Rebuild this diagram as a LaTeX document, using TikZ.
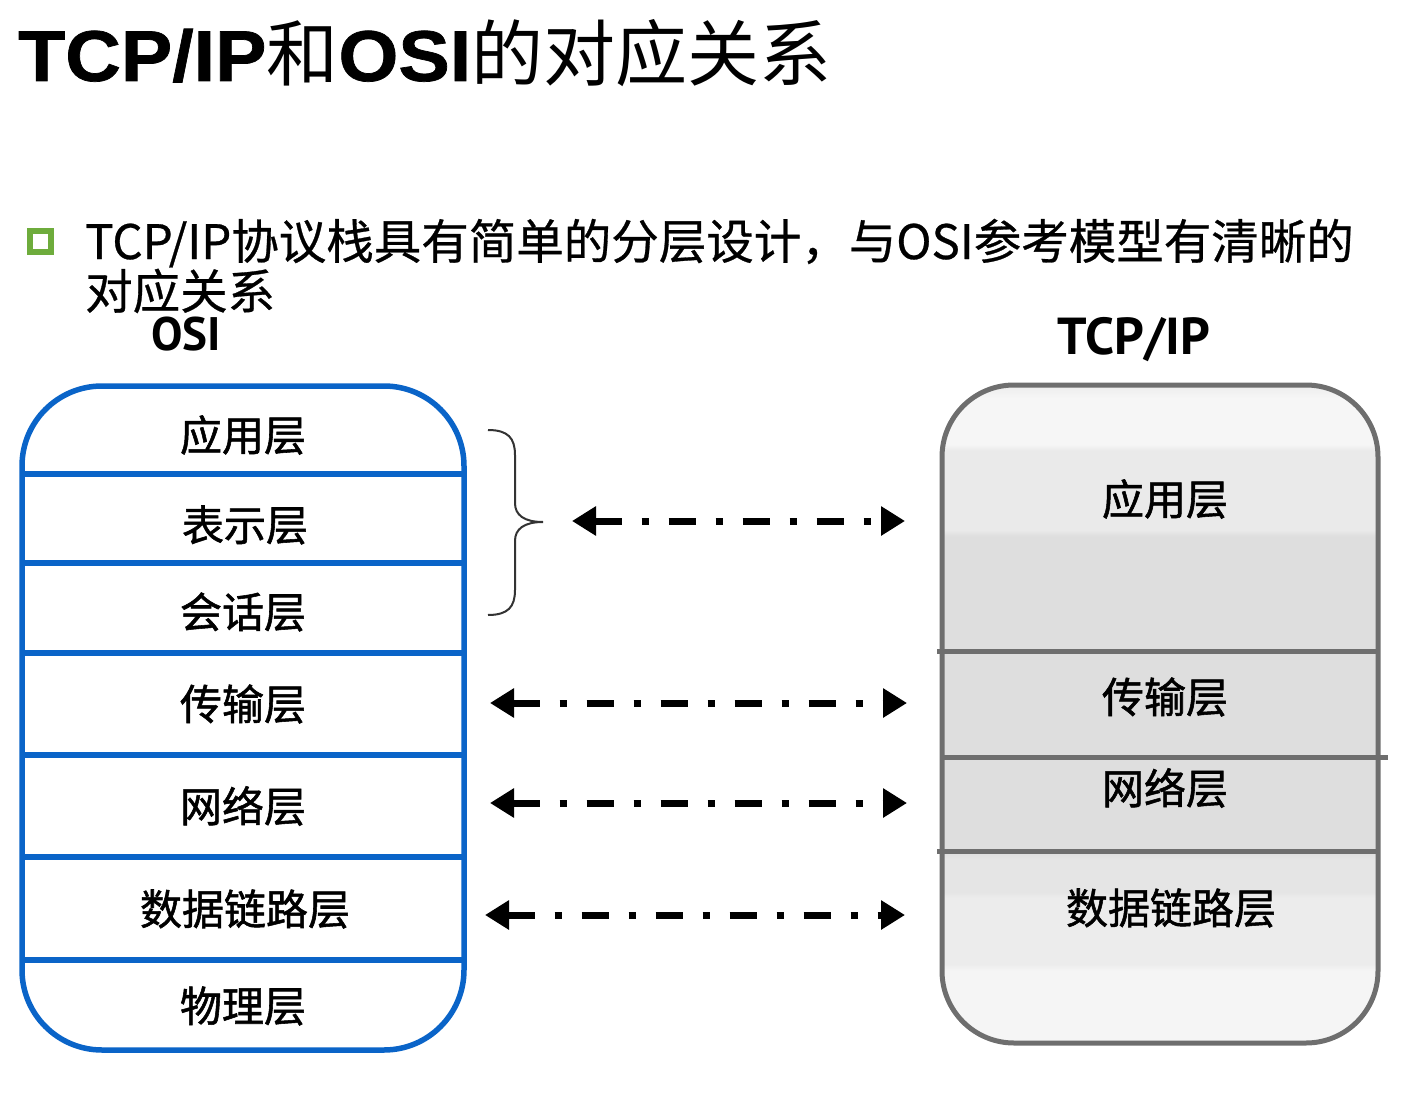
\documentclass[tikz,border=0pt]{standalone}
\usepackage{fontspec}
\usetikzlibrary{arrows.meta}
\newfontfamily\cjk{Noto Sans CJK SC}
\newfontfamily\cjktext{Noto Sans CJK SC}[FakeBold=0.6]
\newfontfamily\cjklabel{Noto Sans CJK SC}[FakeBold=1.3]
\newfontfamily\heavy{Liberation Sans Bold}[FakeStretch=1.07, FakeBold=1]
\newfontfamily\narrow{PT Sans}

\definecolor{osiblue}{RGB}{10,100,200}
\definecolor{boxgray}{RGB}{110,110,110}
\definecolor{bulletgreen}{RGB}{110,172,60}
\definecolor{fillTop}{RGB}{236,236,236}
\definecolor{fillGlow}{RGB}{246,246,246}
\definecolor{fillUpper}{RGB}{234,234,234}
\definecolor{fillMid}{RGB}{222,222,222}
\definecolor{fillLow}{RGB}{229,229,229}
\definecolor{fillLow2}{RGB}{236,236,236}
\definecolor{fillBase}{RGB}{245,245,245}

% vertical fill of the TCP/IP stack: glossy top, flat middle, light bottom
\pgfdeclareverticalshading{stackfill}{100bp}{%
  color(0bp)=(fillBase); color(25bp)=(fillBase); color(30.5bp)=(fillBase);
  color(31bp)=(fillLow2); color(36bp)=(fillLow2); color(36.5bp)=(fillLow);
  color(39bp)=(fillLow); color(39.5bp)=(fillMid); color(63.5bp)=(fillMid);
  color(64bp)=(fillUpper); color(70bp)=(fillUpper); color(70.5bp)=(fillGlow);
  color(74bp)=(fillGlow); color(75bp)=(fillTop); color(100bp)=(fillTop)}

\tikzset{
  x=1pt, y=-1pt,
  layerlabel/.style={font=\cjklabel\fontsize{42}{42}\selectfont, inner sep=0pt, text=black},
  osiline/.style={draw=osiblue, line width=5.5pt},
  stackline/.style={draw=boxgray, line width=5pt},
  maparrow/.style={draw=black, line width=7pt,
    dash pattern=on 27pt off 20pt on 7pt off 20pt,
    {Triangle[length=24pt,width=28pt]}-{Triangle[length=24pt,width=28pt]}},
  bracestyle/.style={draw=black!80, line width=2pt},
}

\begin{document}
\begin{tikzpicture}
\useasboundingbox (0,0) rectangle (1428,1097);

% title
\node[anchor=base west, inner sep=0pt] (title) at (18,81)
  {\fontsize{72}{72}\selectfont{\heavy TCP/IP}{\cjk 和}{\heavy OSI}{\cjk 的对应关系}};

% bullet point
\node[draw=bulletgreen, line width=6pt, minimum size=21pt, inner sep=0pt] (bullet) at (40,241) {};
\node[anchor=base west, inner sep=0pt, font=\cjktext\fontsize{47.5}{47.5}\selectfont] (line1) at (85,259)
  {TCP/IP协议栈具有简单的分层设计，与OSI参考模型有清晰的};
\node[anchor=base west, inner sep=0pt, font=\cjktext\fontsize{47.5}{47.5}\selectfont] (line2) at (85,309)
  {对应关系};

% column headings
\node[anchor=base, inner sep=0pt, font=\narrow\bfseries\fontsize{47}{47}\selectfont] (osihead) at (186,350) {OSI};
\node[anchor=base, inner sep=0pt, font=\narrow\bfseries\fontsize{52}{52}\selectfont] (tcphead) at (1134,354) {TCP/IP};

% OSI seven-layer stack
\draw[osiline, fill=white, rounded corners=80pt] (22,386) rectangle (464,1050);
\foreach \yy in {474,563,653,755,857,960}
  \draw[osiline] (22,\yy) -- (464,\yy);
\node[layerlabel] (oapp)  at (243,435)  {应用层};
\node[layerlabel] (opres) at (245,525)  {表示层};
\node[layerlabel] (osess) at (243,612)  {会话层};
\node[layerlabel] (otran) at (243,704)  {传输层};
\node[layerlabel] (onet)  at (243,806)  {网络层};
\node[layerlabel] (olink) at (245,909)  {数据链路层};
\node[layerlabel] (ophy)  at (243,1006) {物理层};

% TCP/IP four-layer stack
\shade[shading=stackfill, draw=boxgray, line width=5pt, rounded corners=72pt]
  (942,385) rectangle (1378,1043);
\draw[stackline] (937,651) -- (1378,651);
\draw[stackline] (942,757) -- (1388,757);
\draw[stackline] (937,851) -- (1378,851);
\node[layerlabel] (tapp)  at (1165,499) {应用层};
\node[layerlabel] (ttran) at (1165,697) {传输层};
\node[layerlabel] (tnet)  at (1165,788) {网络层};
\node[layerlabel] (tlink) at (1171,908) {数据链路层};

% brace grouping the three upper OSI layers
\draw[bracestyle] (488,430) .. controls (508,430) and (515,438) .. (515,455)
  -- (515,503) .. controls (515,515) and (524,522) .. (543,522)
  .. controls (524,522) and (515,529) .. (515,541)
  -- (515,590) .. controls (515,607) and (508,615) .. (488,615);

% arrow end points
\coordinate (a1l) at (572,521); \coordinate (a1r) at (905,521);
\coordinate (a2l) at (490,703); \coordinate (a2r) at (907,703);
\coordinate (a3l) at (490,803); \coordinate (a3r) at (907,803);
\coordinate (a4l) at (485,915); \coordinate (a4r) at (905,915);

% layer correspondences
\draw[maparrow] (a1l) -- (a1r);
\draw[maparrow] (a2l) -- (a2r);
\draw[maparrow] (a3l) -- (a3r);
\draw[maparrow] (a4l) -- (a4r);
\end{tikzpicture}
\end{document}
